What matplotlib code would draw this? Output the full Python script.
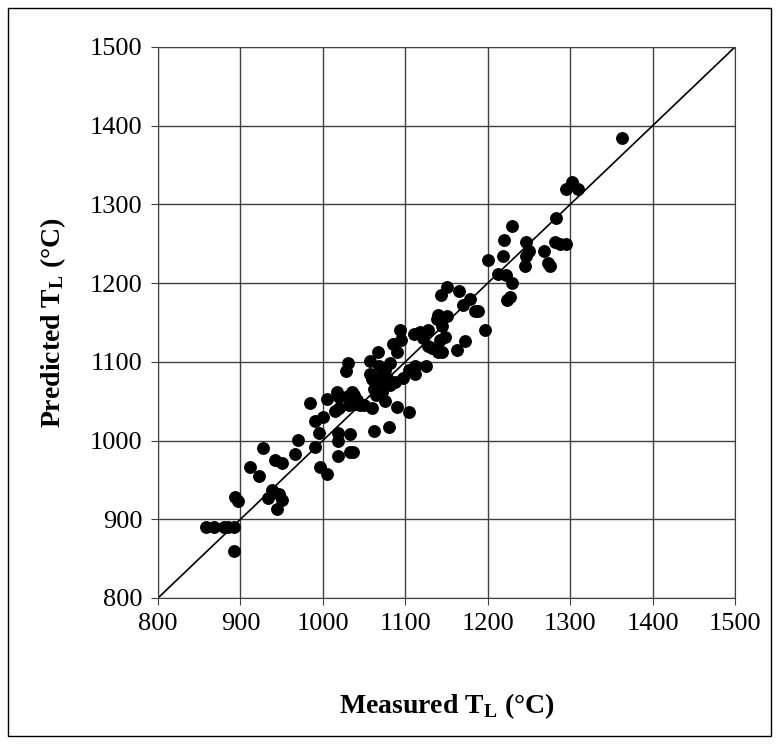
import matplotlib
matplotlib.use('Agg')
import matplotlib.pyplot as plt
from matplotlib.patches import Rectangle

plt.rcParams['font.family'] = ['Liberation Serif', 'DejaVu Serif']
plt.rcParams['mathtext.fontset'] = 'custom'
plt.rcParams['mathtext.rm'] = 'Liberation Serif'
plt.rcParams['mathtext.bf'] = 'Liberation Serif:bold'

# measured vs predicted liquidus temperature (degC)
measured = [858, 868, 880, 885, 892, 892, 893, 897, 912, 922, 927, 933, 938, 942,
            944, 947, 950, 950, 966, 970, 985, 990, 990, 995, 997, 1000, 1005, 1005,
            1015, 1017, 1018, 1018, 1018, 1020, 1020, 1028, 1030, 1030, 1032, 1033,
            1033, 1036, 1035, 1038, 1040, 1042, 1045, 1050, 1057, 1057, 1060, 1060,
            1062, 1062, 1065, 1067, 1068, 1070, 1070, 1072, 1075, 1075, 1078, 1080,
            1082, 1082, 1085, 1087, 1090, 1090, 1093, 1095, 1097, 1105, 1105, 1110,
            1112, 1112, 1118, 1122, 1125, 1127, 1128, 1132, 1138, 1140, 1140, 1142,
            1143, 1145, 1145, 1148, 1150, 1150, 1163, 1165, 1170, 1172, 1178, 1185,
            1188, 1197, 1200, 1213, 1218, 1220, 1222, 1223, 1227, 1230, 1230, 1245,
            1247, 1247, 1250, 1268, 1273, 1275, 1283, 1282, 1288, 1295, 1295, 1302,
            1310, 1363]
predicted = [890, 890, 890, 890, 890, 860, 928, 923, 967, 955, 990, 927, 937, 975,
             913, 932, 971, 925, 983, 1001, 1048, 1025, 992, 1010, 966, 1030, 1053, 957,
             1037, 1062, 1010, 1000, 980, 1042, 1055, 1088, 1098, 1057, 1045, 1008,
             985, 985, 1062, 1058, 1047, 1052, 1045, 1045, 1101, 1085, 1078, 1042,
             1012, 1065, 1058, 1112, 1095, 1082, 1070, 1062, 1050, 1090, 1080, 1017,
             1070, 1098, 1123, 1075, 1112, 1043, 1140, 1128, 1080, 1036, 1090, 1136,
             1085, 1095, 1138, 1130, 1095, 1140, 1120, 1118, 1155, 1160, 1113, 1128,
             1185, 1113, 1145, 1132, 1195, 1158, 1115, 1190, 1172, 1127, 1180, 1165,
             1165, 1141, 1229, 1211, 1235, 1255, 1210, 1178, 1183, 1200, 1273, 1222,
             1252, 1235, 1241, 1241, 1225, 1222, 1283, 1252, 1250, 1250, 1320, 1328,
             1320, 1385]
ticks = [800, 900, 1000, 1100, 1200, 1300, 1400, 1500]

fig = plt.figure(figsize=(7.79, 7.44), dpi=100)
fig.patches.append(Rectangle((8/779, 8/744), 763/779, 728/744, transform=fig.transFigure,
                             fill=False, edgecolor='black', linewidth=1.0))
ax = fig.add_axes([158/779, 146/744, 577/779, 551/744])

ax.plot([800, 1500], [800, 1500], color='black', linewidth=1.2, zorder=2)
ax.scatter(measured, predicted, s=68, color='black', zorder=3)

ax.set_xlim(800, 1500)
ax.set_ylim(800, 1500)
ax.set_xticks(ticks)
ax.set_yticks(ticks)
ax.grid(True, color='#404040', linewidth=1.0, zorder=1)
ax.set_axisbelow(True)
for sp in ax.spines.values():
    sp.set_color('#404040')
ax.tick_params(labelsize=19, length=5, color='#404040', pad=6)

ax.set_xlabel(r'Measured T$_\mathbf{L}$ (°C)', fontsize=20, fontweight='bold', labelpad=40)
ax.set_ylabel(r'Predicted T$\mathbf{_L}$ (°C)', fontsize=20, fontweight='bold', labelpad=16)

fig.savefig('out.png', dpi=100)
